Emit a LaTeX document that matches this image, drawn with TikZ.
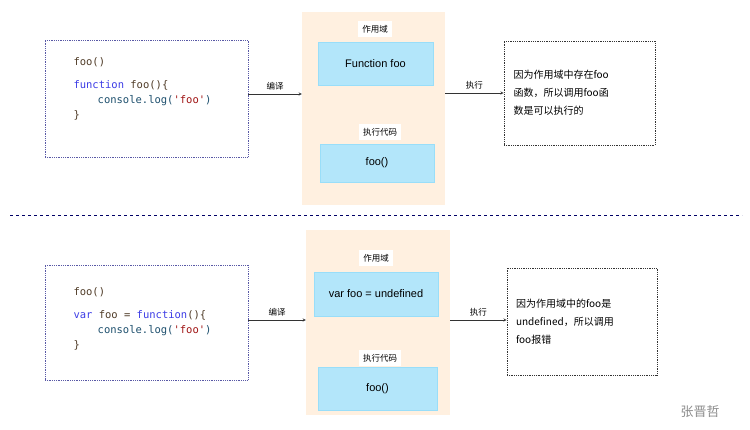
\documentclass[tikz,border=0pt]{standalone}
\usepackage{fontspec}
\setmainfont{Liberation Sans}
\setmonofont{DejaVu Sans Mono}
\newfontfamily\cjk{Noto Sans CJK SC}
\begin{document}
\begin{tikzpicture}[x=1pt,y=-1pt,
  code/.style={draw=blue!30!gray,densely dotted,thick,fill=white},
  note/.style={draw=black!80,densely dotted,thick},
  panel/.style={fill=orange!12,draw=none},
  blue box/.style={fill=cyan!30,draw=cyan!40,font=\fontsize{11}{13}\selectfont},
  lab/.style={fill=white,font=\cjk\fontsize{8.5}{10}\selectfont,inner sep=4pt},
  arr/.style={->,>=stealth,thin,draw=black!80},
  alab/.style={font=\cjk\fontsize{8.5}{10}\selectfont},
  notetxt/.style={font=\cjk\fontsize{10}{18}\selectfont,align=left,text width=132pt},
  ct/.style={font=\ttfamily\fontsize{10.5}{15}\selectfont,align=left,anchor=north west}]
\useasboundingbox (0,0) rectangle (750,430);
\definecolor{kw}{RGB}{60,60,230}\definecolor{cn}{RGB}{30,80,110}\definecolor{st}{RGB}{160,20,20}\definecolor{tx}{RGB}{80,60,40}
% top
\node[code,minimum width=203pt,minimum height=117pt] (c1) at (146.5,98.5) {};
\node[ct,text=tx] (t1) at (70,54) {foo()\\[8pt]\textcolor{kw}{function} foo()\{\\\hspace*{2.3em}\textcolor{cn}{console.log(}\textcolor{st}{'foo'}\textcolor{cn}{)}\\\}};
\node[panel,minimum width=143pt,minimum height=193pt] (p1) at (373.5,108.5) {};
\node[blue box,minimum width=115pt,minimum height=43pt] (b1) at (375.5,63.5) {Function foo};
\node[lab] (l1) at (375,29) {作用域};
\node[blue box,minimum width=114pt,minimum height=38pt] (b2) at (377,163) {foo()};
\node[lab] (l2) at (380,132) {执行代码};
\node[note,minimum width=151pt,minimum height=104pt] (n1) at (579.5,93) {};
\node[notetxt] at (n1) {因为作用域中存在foo\\函数，所以调用foo函\\数是可以执行的};
\draw[arr] (c1.east|-0,94) -- node[alab,above] {编译} (p1.west|-0,94);
\draw[arr] (p1.east|-0,93) -- node[alab,above] {执行} (n1.west|-0,93);
\draw[dashed,thick,draw=blue!40!black] (10,215) coordinate (d1) -- (742,215) coordinate (d2);
% bottom
\node[code,minimum width=203pt,minimum height=115pt] (c2) at (146.5,322.5) {};
\node[ct,text=tx] (t2) at (70,284) {foo()\\[8pt]\textcolor{kw}{var} foo = \textcolor{kw}{function}()\{\\\hspace*{2.3em}\textcolor{cn}{console.log(}\textcolor{st}{'foo'}\textcolor{cn}{)}\\\}};
\node[panel,minimum width=144pt,minimum height=185pt] (p2) at (378,322.5) {};
\node[blue box,minimum width=124pt,minimum height=44pt] (b3) at (376,294) {var foo = undefined};
\node[lab] (l3) at (376,258) {作用域};
\node[blue box,minimum width=119pt,minimum height=43pt] (b4) at (377.5,388.5) {foo()};
\node[lab] (l4) at (380,358) {执行代码};
\node[note,minimum width=150pt,minimum height=107pt] (n2) at (582,321.5) {};
\node[notetxt] at (n2) {因为作用域中的foo是\\undefined，所以调用\\foo报错};
\draw[arr] (c2.east|-0,320) -- node[alab,above] {编译} (p2.west|-0,320);
\draw[arr] (p2.east|-0,320) -- node[alab,above] {执行} (n2.west|-0,320);
\node[font=\cjk\fontsize{13}{15}\selectfont,text=black!45] (wm) at (700,412) {张晋哲};
\end{tikzpicture}
\end{document}
